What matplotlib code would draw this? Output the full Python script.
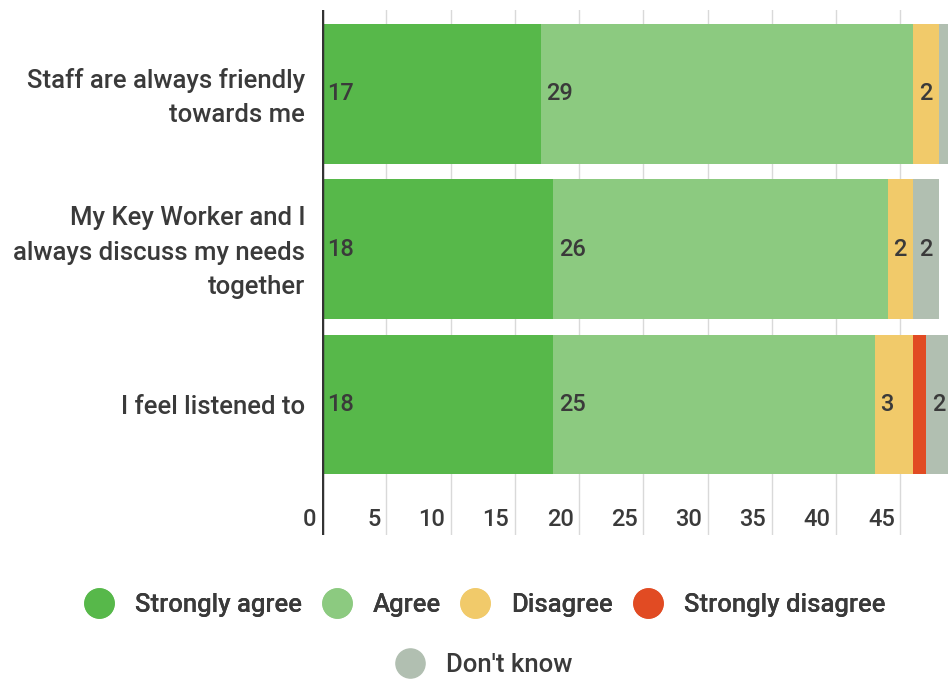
import matplotlib.pyplot as plt
import matplotlib.transforms as mtransforms
from matplotlib.lines import Line2D
import numpy as np

plt.rcParams['font.family'] = ['Roboto', 'DejaVu Sans']
plt.rcParams['font.weight'] = 'medium'

questions = ["Staff are always friendly\ntowards me",
             "My Key Worker and I\nalways discuss my needs\ntogether",
             "I feel listened to"]
responses = ["Strongly agree", "Agree", "Disagree", "Strongly disagree", "Don't know"]
strongly_agree = [17, 18, 18]
agree = [29, 26, 25]
disagree = [2, 2, 3]
strongly_disagree = [0, 0, 1]
dont_know = [1, 2, 2]
x_ticks = [0, 5, 10, 15, 20, 25, 30, 35, 40, 45]

colors = ["#57b84a", "#8cca80", "#f1ca6a", "#e14b23", "#b1bfb1"]
text_color = "#3a3a3a"

series = [strongly_agree, agree, disagree, strongly_disagree, dont_know]

fig = plt.figure(figsize=(9.48, 6.81), dpi=100)
ax = fig.add_axes([0.3397, 0.2144, 0.6603, 0.771])

y = np.arange(len(questions))
left = np.zeros(len(questions))
for vals, color in zip(series, colors):
    vals = np.array(vals)
    ax.barh(y, vals, left=left, height=0.9, color=color, zorder=2)
    for yi, (l, v) in enumerate(zip(left, vals)):
        if v > 1:
            ax.annotate(str(v), (l, yi), xytext=(4, 0), textcoords="offset points",
                        ha="left", va="center", fontsize=17, color=text_color, zorder=3)
    left += vals

ax.set_xlim(0, 48.7)
ax.set_ylim(2.84, -0.54)

# light vertical grid, dark axis line at zero
for t in x_ticks[1:]:
    ax.axvline(t, color="#d9d9d9", linewidth=1, zorder=1)
    ax.annotate(str(t), (t, 2.74), xytext=(-4, 0), textcoords="offset points",
                ha="right", va="center", fontsize=17, color=text_color)
ax.annotate("0", (0, 2.74), xytext=(-4, 0), textcoords="offset points",
            ha="right", va="center", fontsize=17, color=text_color, annotation_clip=False)
ax.axvline(0, color="#333333", linewidth=2.5, zorder=4)

ax.set_xticks([])
ax.set_yticks(y)
ax.set_yticklabels(questions, fontsize=18.5, color=text_color, linespacing=1.55)
ax.tick_params(axis="y", length=0, pad=12)
# nudge wrapped labels up a little so they sit centred on their bars
lift = mtransforms.ScaledTranslation(0, 3 / 72, fig.dpi_scale_trans)
for lab in ax.get_yticklabels():
    if "\n" in lab.get_text():
        lab.set_transform(lab.get_transform() + lift)
for s in ax.spines.values():
    s.set_visible(False)

# legend rows of coloured dots
handles = [Line2D([], [], marker="o", linestyle="none", markersize=21,
                  markerfacecolor=c, markeredgecolor=c) for c in colors]
leg1 = fig.legend(handles[:4], responses[:4], loc="center", bbox_to_anchor=(0.511, 0.112),
                  ncol=4, frameon=False, fontsize=18.5, handlelength=1.2, handletextpad=0.8,
                  columnspacing=0.75, labelcolor=text_color)
fig.add_artist(leg1)
fig.legend(handles[4:], responses[4:], loc="center", bbox_to_anchor=(0.51, 0.024),
           ncol=1, frameon=False, fontsize=18.5, handlelength=1.2, handletextpad=0.8,
           labelcolor=text_color)

fig.savefig("out.png", dpi=100)
